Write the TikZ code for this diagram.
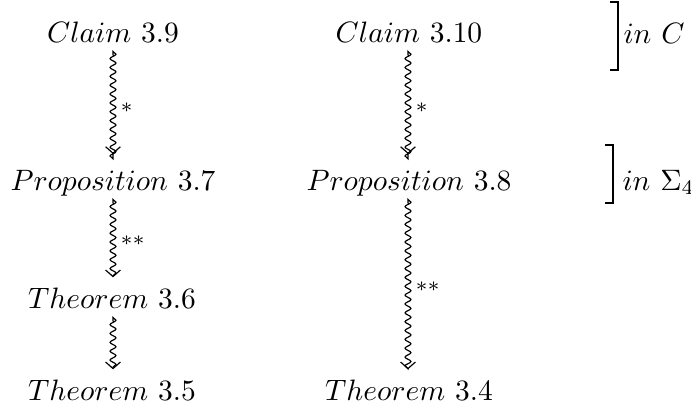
\documentclass[tikz,border=0pt]{standalone}
\usetikzlibrary{decorations.pathmorphing,arrows.meta}
\begin{document}
\begin{tikzpicture}[x=0.339pt,y=-0.339pt,
  lbl/.style={anchor=base,inner sep=0pt,text height=7pt,text depth=2pt},
  sq/.style={-{Straight Barb[length=2.2pt,width=5pt]},line width=0.4pt,
    decorate,decoration={snake,amplitude=1pt,segment length=3pt,pre length=1pt,post length=2.5pt},
    shorten <=2.3pt,shorten >=3.2pt},
  tag/.style={midway,anchor=west,inner sep=0pt,xshift=2.4pt,yshift=0.3pt,font=\scriptsize},
  brk/.style={line width=0.55pt}]
\useasboundingbox (0,0) rectangle (691,408);
% column 1
\node[lbl] (c39) at (113,42) {$Claim$ 3.9};
\node[lbl] (p37) at (113,190) {$Proposition$ 3.7};
\node[lbl] (t36) at (112,308) {$Theorem$ 3.6};
\node[lbl] (t35) at (112,400) {$Theorem$ 3.5};
% column 2
\node[lbl] (c310) at (409,42) {$Claim$ 3.10};
\node[lbl] (p38) at (409,190) {$Proposition$ 3.8};
\node[lbl] (t34) at (409,400) {$Theorem$ 3.4};
% side notes
\node[anchor=base west,inner sep=0pt] (inC) at (623,43) {$in\ C$};
\node[anchor=base west,inner sep=0pt] (inS) at (622,190) {$in\ \Sigma_4$};
% connectors
\draw[sq,shorten >=5pt] (c39.south -| 113,0) -- (p37.north -| 113,0) node[tag] {$*$};
\draw[sq] (p37.south -| 113,0) -- (t36.north -| 113,0) node[tag] {$**$};
\draw[sq] (t36.south -| 113,0) -- (t35.north -| 113,0);
\draw[sq,shorten >=5pt] (c310.south -| 408,0) -- (p38.north -| 408,0) node[tag] {$*$};
\draw[sq] (p38.south -| 408,0) -- (t34.north -| 408,0) node[tag] {$**$};
% brackets
\draw[brk] (610,2) -- (618,2) -- (618,70) -- (610,70);
\draw[brk] (605,145) -- (613,145) -- (613,203) -- (605,203);
\end{tikzpicture}
\end{document}
